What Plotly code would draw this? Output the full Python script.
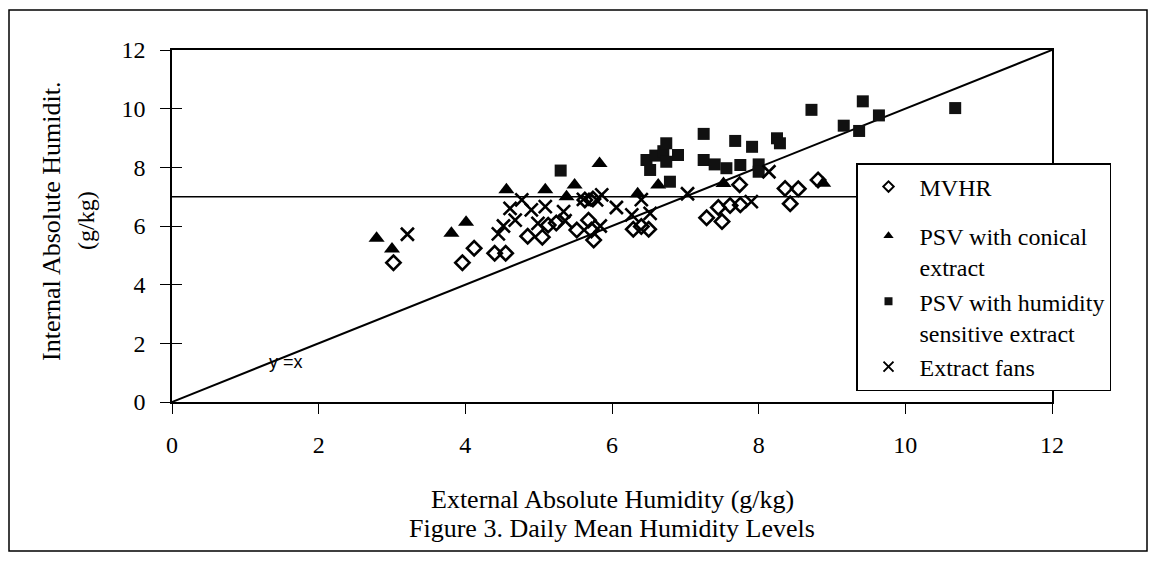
import plotly.graph_objects as go

# ---- data (g/kg) ----
mvhr_x = [3.02, 3.96, 4.12, 4.40, 4.55, 4.85, 5.05, 5.13, 5.24, 5.52, 5.68, 5.72, 5.75, 5.63, 5.74,
          6.29, 6.40, 6.50, 7.29, 7.45, 7.50, 7.61, 7.75, 7.74, 8.36, 8.54, 8.43, 8.81]
mvhr_y = [4.75, 4.75, 5.24, 5.07, 5.07, 5.65, 5.62, 6.03, 6.10, 5.86, 6.20, 5.86, 5.52, 6.89, 6.92,
          5.89, 5.98, 5.89, 6.28, 6.63, 6.15, 6.70, 6.72, 7.41, 7.28, 7.27, 6.76, 7.57]

psv_con_x = [2.79, 3.00, 3.81, 4.01, 4.56, 5.09, 5.49, 5.38, 5.83, 6.35, 6.63, 7.52, 8.88]
psv_con_y = [5.58, 5.22, 5.75, 6.13, 7.24, 7.24, 7.40, 7.00, 8.13, 7.10, 7.40, 7.45, 7.46]

psv_hum_x = [5.30, 6.47, 6.59, 6.70, 6.74, 6.90, 6.52, 6.74, 6.79, 7.25, 7.25, 7.40, 7.56,
             7.68, 7.75, 7.91, 8.00, 8.00, 8.25, 8.29, 8.72, 9.16, 9.37, 9.42, 9.64, 10.68]
psv_hum_y = [7.89, 8.25, 8.40, 8.55, 8.82, 8.42, 7.91, 8.19, 7.51, 9.14, 8.25, 8.10, 7.97,
             8.90, 8.08, 8.70, 8.10, 7.85, 8.99, 8.82, 9.96, 9.42, 9.24, 10.25, 9.77, 10.02]

fans_x = [3.21, 4.45, 4.52, 4.61, 4.77, 4.90, 4.68, 4.99, 5.09, 5.34, 5.36, 5.61, 5.79,
          5.84, 5.86, 6.06, 6.27, 6.40, 6.52, 7.03, 7.90, 8.14]
fans_y = [5.72, 5.73, 6.00, 6.60, 6.89, 6.55, 6.20, 6.09, 6.66, 6.49, 6.18, 6.91, 6.89,
          6.00, 7.06, 6.63, 6.38, 6.90, 6.43, 7.10, 6.83, 7.85]

line_xy = [0, 12]          # y = x reference line
threshold = 7              # horizontal reference level
axis_ticks = [0, 2, 4, 6, 8, 10, 12]

series_names = ["MVHR", "PSV with conical<br>extract",
                "PSV with humidity<br>sensitive extract", "Extract fans"]

SERIF = "Times New Roman, Liberation Serif, DejaVu Serif, serif"

styles = [
    dict(symbol="diamond-open", color="black", line=dict(width=2.6, color="black")),
    dict(symbol="triangle-up", color="black", line=dict(width=0)),
    dict(symbol="square", color="#111111", line=dict(width=0)),
    dict(symbol="x-thin", color="black", line=dict(width=2.6, color="black")),
]
plot_sizes = [11, 14, 12, 13]
legend_sizes = [8, 9, 8, 10]
legend_line_w = [2.0, 0, 0, 2.0]

fig = go.Figure()

# reference lines
fig.add_trace(go.Scatter(x=line_xy, y=[threshold, threshold], mode="lines",
                         line=dict(color="black", width=1.5), showlegend=False, hoverinfo="skip"))
fig.add_trace(go.Scatter(x=line_xy, y=line_xy, mode="lines",
                         line=dict(color="black", width=2), showlegend=False, hoverinfo="skip"))

series = [(mvhr_x, mvhr_y), (psv_con_x, psv_con_y), (psv_hum_x, psv_hum_y), (fans_x, fans_y)]
for i, (sx, sy) in enumerate(series):
    m = dict(styles[i])
    m["size"] = plot_sizes[i]
    fig.add_trace(go.Scatter(x=sx, y=sy, mode="markers", marker=m, showlegend=False,
                             name=series_names[i].replace("<br>", " ")))

# legend entries (small symbols, as in the original key)
for i in range(4):
    m = dict(styles[i])
    m["size"] = legend_sizes[i]
    m["line"] = dict(width=legend_line_w[i], color="black")
    fig.add_trace(go.Scatter(x=[None], y=[None], mode="markers", marker=m,
                             name=series_names[i], legendgroup="a" if i == 0 else "b"))

# invisible trace to carry the inside-tick overlay axis
fig.add_trace(go.Scatter(x=[0], y=[0], yaxis="y2", mode="markers",
                         marker=dict(opacity=0), showlegend=False, hoverinfo="skip"))

OFF = 8                      # page body margin
W, H = 1157 - 2 * OFF, 564 - 2 * OFF
L, T = 172 - OFF, 50 - OFF
R = W - (1052 - OFF)
B = H - (402 - OFF)
pw, ph = W - L - R, H - T - B


def px(page_x):
    return (page_x - OFF - L) / pw


def py(page_y):
    return (H - B - (page_y - OFF)) / ph


fig.update_layout(
    width=W, height=H,
    margin=dict(l=L, r=R, t=T, b=B),
    paper_bgcolor="white", plot_bgcolor="white",
    font=dict(family=SERIF, color="black"),
    xaxis=dict(range=[0, 12], tickvals=axis_ticks, showgrid=False, zeroline=False,
               showline=True, linecolor="black", linewidth=1.5, mirror=True,
               ticks="outside", ticklen=10, tickwidth=1.2, tickcolor="black",
               tickfont=dict(size=24, family=SERIF), ticklabelstandoff=10),
    yaxis=dict(range=[0, 12], tickvals=axis_ticks, showgrid=False, zeroline=False,
               showline=True, linecolor="black", linewidth=1.5, mirror=True,
               ticks="outside", ticklen=10, tickwidth=1.2, tickcolor="black",
               tickfont=dict(size=24, family=SERIF), ticklabelstandoff=10),
    yaxis2=dict(range=[0, 12], tickvals=axis_ticks, overlaying="y", side="left",
                showgrid=False, zeroline=False, showline=False, showticklabels=False,
                ticks="inside", ticklen=10, tickwidth=1.2, tickcolor="black"),
    legend=dict(x=px(856), y=py(163), xanchor="left", yanchor="top",
                bgcolor="white", bordercolor="black", borderwidth=1.5,
                font=dict(size=24, family=SERIF), valign="top",
                itemsizing="trace", itemwidth=52, traceorder="grouped",
                tracegroupgap=15),
    showlegend=True,
)

fig.add_annotation(text="y =x", x=1.55, y=1.35, xref="x", yref="y", showarrow=False,
                   font=dict(family="Liberation Sans, Arial, sans-serif", size=18))


def label(text, x, y, size, angle=0):
    fig.add_annotation(text=text, x=px(x), y=py(y), xref="paper", yref="paper",
                       xanchor="center", yanchor="middle", textangle=angle,
                       showarrow=False, font=dict(size=size, family=SERIF))


label("Internal Absolute Humidit.", 51, 221, 26, -90)
label("(g/kg)", 86, 221, 24, -90)
label("External Absolute Humidity (g/kg)", 612, 499, 26)
label("Figure 3. Daily Mean Humidity Levels", 612, 528, 26)

fig.add_shape(type="rect", xref="paper", yref="paper",
              x0=px(9), x1=px(1147), y0=py(551), y1=py(10),
              line=dict(color="black", width=1.5), layer="below")

fig.write_html("out.html")
